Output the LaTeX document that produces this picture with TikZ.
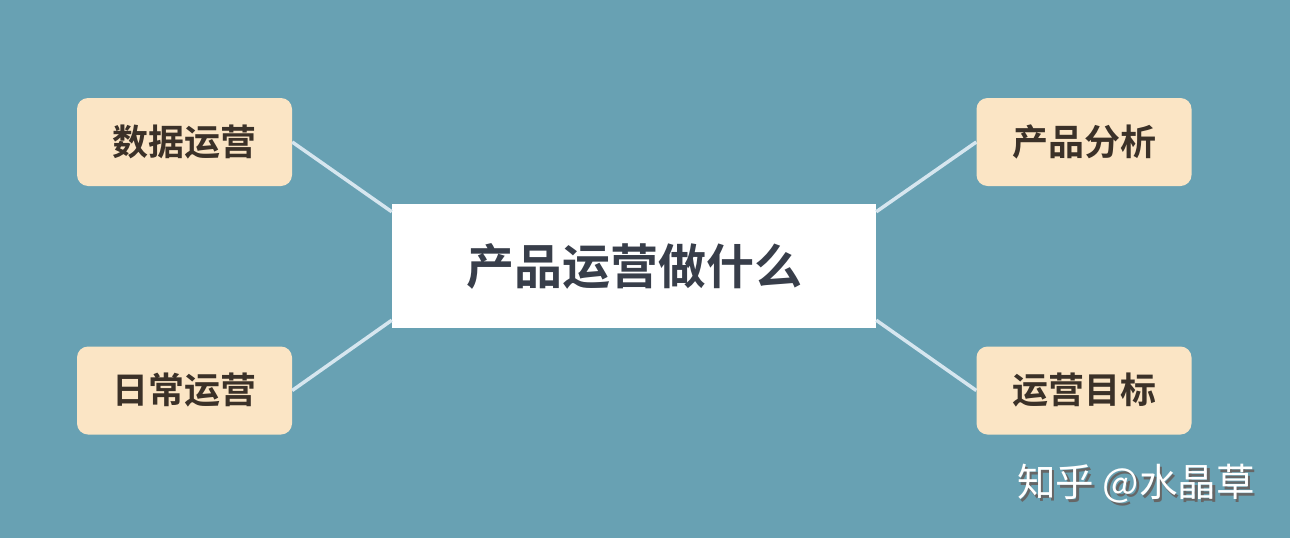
\documentclass[tikz,border=0pt]{standalone}
\usepackage{fontspec}
\newfontfamily\cjk{Noto Sans CJK SC}[BoldFont={Noto Sans CJK SC Bold}]
\definecolor{bg}{HTML}{68A1B3}
\definecolor{boxfill}{HTML}{FBE5C5}
\definecolor{boxtext}{HTML}{3B3128}
\definecolor{maintext}{HTML}{383E4A}
\definecolor{linkc}{HTML}{D6E6EF}
\tikzset{
  x=1pt,y=-1pt,
  leaf/.style={fill=boxfill, rounded corners=11pt, minimum width=215pt, minimum height=88pt, inner sep=0pt, text=boxtext, font=\cjk\bfseries\fontsize{36}{42}\selectfont},
  hub/.style={fill=white, minimum width=484pt, minimum height=124pt, inner sep=0pt, text=maintext, font=\cjk\bfseries\fontsize{48}{56}\selectfont},
  link/.style={draw=linkc, line width=3.5pt},
  wmark/.style={text=white, font=\cjk\fontsize{38.5}{46}\selectfont, inner sep=0pt}
}
\begin{document}
\begin{tikzpicture}
\fill[bg] (0,0) rectangle (1290,538);
\useasboundingbox (0,0) rectangle (1290,538);
\node[hub] (c) at (634,266) {产品运营做什么};
\node[leaf] (tl) at (184.5,142) {数据运营};
\node[leaf] (bl) at (184.5,390.5) {日常运营};
\node[leaf] (tr) at (1084,142) {产品分析};
\node[leaf] (br) at (1084,390.5) {运营目标};
\coordinate (c1) at ([yshift=-8pt]c.north west);
\coordinate (c2) at ([yshift=8pt]c.south west);
\coordinate (c3) at ([yshift=-8pt]c.north east);
\coordinate (c4) at ([yshift=8pt]c.south east);
\draw[link] (tl.east) -- (c1);
\draw[link] (bl.east) -- (c2);
\draw[link] (tr.west) -- (c3);
\draw[link] (br.west) -- (c4);
\node[wmark, text=black!60, anchor=west] (wms) at (1019.5,486.5) {知乎 @水晶草};
\node[wmark, anchor=west] (wm) at (1017,484) {知乎 @水晶草};
\end{tikzpicture}
\end{document}
